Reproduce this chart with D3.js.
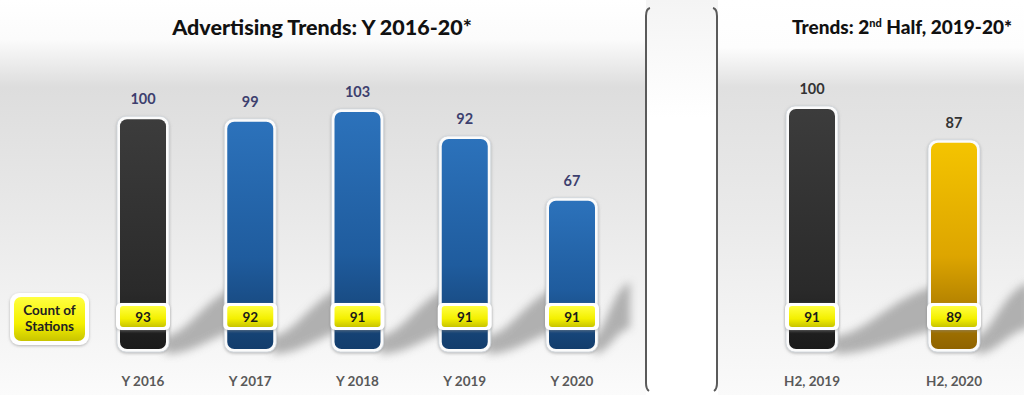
<!DOCTYPE html>
<html><head><meta charset="utf-8">
<script src="https://cdn.jsdelivr.net/npm/d3@7"></script>
<style>body{margin:0;background:#fff;}svg{display:block;}</style>
</head><body>
<svg id="c" width="1024" height="395"></svg>
<script>
// ---- data ----
const leftCategories = ["Y 2016","Y 2017","Y 2018","Y 2019","Y 2020"];
const leftValues = [100, 99, 103, 92, 67];
const leftStations = [93, 92, 91, 91, 91];
const rightCategories = ["H2, 2019","H2, 2020"];
const rightValues = [100, 87];
const rightStations = [91, 89];
const leftTitle = "Advertising Trends: Y 2016-20*";
const legendLines = ["Count of","Stations"];

const svg = d3.select("#c");
const defs = svg.append("defs");
const FONT = "Lato, 'Open Sans', sans-serif";

function lin(id, stops, vertical=true){
  const g = defs.append("linearGradient").attr("id", id)
    .attr("x1",0).attr("y1",0).attr("x2",vertical?0:1).attr("y2",vertical?1:0);
  stops.forEach(s=>g.append("stop").attr("offset",s[0]).attr("stop-color",s[1]));
}
lin("bgL",[[0,"#ffffff"],[0.1,"#fbfbfb"],[0.22,"#dddddd"],[0.55,"#e9e9e9"],[1,"#fbfbfb"]]);
lin("bgR",[[0,"#ffffff"],[0.12,"#fdfdfd"],[0.22,"#e0e0e0"],[0.55,"#eaeaea"],[1,"#fafafa"]]);
lin("bgM",[[0,"#f4f4f4"],[0.3,"#ffffff"],[1,"#ffffff"]]);
lin("gBlack",[[0,"#3c3c3c"],[0.75,"#2a2a2a"],[1,"#1a1a1a"]]);
lin("gBlue",[[0,"#2c72bb"],[0.6,"#1f5c9e"],[1,"#133d6c"]]);
lin("gGold",[[0,"#f4c400"],[0.55,"#dda500"],[1,"#8f6300"]]);
lin("gYel",[[0,"#ffff40"],[0.6,"#f4f000"],[1,"#c8c400"]]);
const blur = defs.append("filter").attr("id","blur").attr("x","-20%").attr("y","-40%").attr("width","140%").attr("height","180%");
blur.append("feGaussianBlur").attr("stdDeviation",4.5);
const glow = defs.append("filter").attr("id","glow").attr("x","-30%").attr("y","-30%").attr("width","160%").attr("height","160%");
glow.append("feDropShadow").attr("dx",0).attr("dy",1).attr("stdDeviation",1.5).attr("flood-color","#888").attr("flood-opacity",0.6);

// ---- backgrounds ----
svg.append("rect").attr("x",0).attr("y",0).attr("width",646).attr("height",395).attr("fill","url(#bgL)");
svg.append("rect").attr("x",646).attr("y",0).attr("width",72).attr("height",395).attr("fill","url(#bgM)");
svg.append("rect").attr("x",718).attr("y",0).attr("width",306).attr("height",395).attr("fill","url(#bgR)");
[646,717].forEach((x,i)=>{
  const d = i===0 ? 1 : -1;
  svg.append("path")
    .attr("d",`M${x+4*d},8 Q${x},9 ${x},16 L${x},383 Q${x},389 ${x+3*d},391`)
    .attr("fill","none").attr("stroke","#5a5a5a").attr("stroke-width",2);
});

// ---- scales ----
const BAR_W = 52, BASE = 352, BADGE_Y = 303, BADGE_H = 27;
const xL = d3.scalePoint().domain(leftCategories).range([143,572]);
const yL = d3.scaleLinear().domain([0,100]).range([363,116.3]);
const xR = d3.scalePoint().domain(rightCategories).range([812,954]);
const yR = d3.scaleLinear().domain([0,100]).range([366,106]);

function panel(cats, vals, stations, x, y, fills, labelColor, shadowEnd){
  const g = svg.append("g");
  // shadows
  g.selectAll("path.sh").data(cats).join("path").attr("class","sh")
    .attr("d",(c,i)=>{
      const xr = x(c)+BAR_W/2-4;
      const xe = i<cats.length-1 ? x(cats[i+1]) : shadowEnd;
      const w = xe - xr;
      return `M${xr},${BASE-16} C${xr+w*0.3},${BASE-18} ${xr+w*0.5},${BASE-62} ${xe},${BASE-70} L${xe},${BASE-24} C${xr+w*0.6},${BASE-22} ${xr+w*0.4},${BASE+2} ${xr},${BASE+2} Z`;
    })
    .attr("fill","#9a9a9a").attr("opacity",0.75).attr("filter","url(#blur)");
  // bar outer (white rim)
  g.selectAll("rect.rim").data(cats).join("rect").attr("class","rim")
    .attr("x",c=>x(c)-BAR_W/2).attr("width",BAR_W)
    .attr("y",(c,i)=>y(vals[i])).attr("height",(c,i)=>BASE-y(vals[i]))
    .attr("rx",9).attr("fill","#fbfbfb").attr("stroke","#cfd6dc").attr("stroke-width",0.8)
    .attr("filter","url(#glow)");
  g.selectAll("rect.bar").data(cats).join("rect").attr("class","bar")
    .attr("x",c=>x(c)-BAR_W/2+3).attr("width",BAR_W-6)
    .attr("y",(c,i)=>y(vals[i])+3).attr("height",(c,i)=>BASE-y(vals[i])-6)
    .attr("rx",7).attr("fill",(c,i)=>fills[i]);
  // value labels
  g.selectAll("text.val").data(cats).join("text").attr("class","val")
    .attr("x",c=>x(c)).attr("y",(c,i)=>y(vals[i])-12)
    .attr("text-anchor","middle").attr("font-family",FONT).attr("font-weight","bold")
    .attr("font-size",14.5).attr("fill",labelColor).text((c,i)=>vals[i]);
  // station badges
  g.selectAll("rect.bw").data(cats).join("rect").attr("class","bw")
    .attr("x",c=>x(c)-BAR_W/2-1).attr("width",BAR_W+2)
    .attr("y",BADGE_Y).attr("height",BADGE_H).attr("rx",5)
    .attr("fill","#ffffff").attr("filter","url(#glow)");
  g.selectAll("rect.by").data(cats).join("rect").attr("class","by")
    .attr("x",c=>x(c)-BAR_W/2+3).attr("width",BAR_W-6)
    .attr("y",BADGE_Y+3).attr("height",BADGE_H-6).attr("rx",3)
    .attr("fill","url(#gYel)");
  g.selectAll("text.st").data(cats).join("text").attr("class","st")
    .attr("x",c=>x(c)).attr("y",BADGE_Y+BADGE_H/2+5)
    .attr("text-anchor","middle").attr("font-family",FONT).attr("font-weight","bold")
    .attr("font-size",13.5).attr("fill","#1a1a1a").text((c,i)=>stations[i]);
  // category labels
  g.selectAll("text.cat").data(cats).join("text").attr("class","cat")
    .attr("x",c=>x(c)).attr("y",386)
    .attr("text-anchor","middle").attr("font-family",FONT).attr("font-weight","bold")
    .attr("font-size",13.5).attr("fill","#595959").text(c=>c);
}

panel(leftCategories, leftValues, leftStations, xL, yL,
  ["url(#gBlack)","url(#gBlue)","url(#gBlue)","url(#gBlue)","url(#gBlue)"], "#3d3f6e", 630);
panel(rightCategories, rightValues, rightStations, xR, yR,
  ["url(#gBlack)","url(#gGold)"], "#333333", 1030);

// ---- legend box ----
svg.append("rect").attr("x",10).attr("y",293).attr("width",79).attr("height",52).attr("rx",9)
  .attr("fill","#ffffff").attr("filter","url(#glow)");
svg.append("rect").attr("x",14).attr("y",297).attr("width",71).attr("height",44).attr("rx",7)
  .attr("fill","url(#gYel)");
svg.append("text").attr("x",49.5).attr("y",315).attr("text-anchor","middle")
  .attr("font-family",FONT).attr("font-weight","bold").attr("font-size",13.5).attr("fill","#222")
  .selectAll("tspan").data(legendLines).join("tspan")
  .attr("x",49.5).attr("dy",(d,i)=>i===0?0:16).text(d=>d);

// ---- titles ----
svg.append("text").attr("x",322).attr("y",35).attr("text-anchor","middle")
  .attr("font-family",FONT).attr("font-weight","900").attr("font-size",21.5).attr("fill","#111")
  .text(leftTitle);
const t2 = svg.append("text").attr("x",1012).attr("y",34).attr("text-anchor","end")
  .attr("font-family",FONT).attr("font-weight","900").attr("font-size",19).attr("fill","#111");
t2.append("tspan").text("Trends: 2");
t2.append("tspan").attr("font-size",11).attr("dy",-7).text("nd");
t2.append("tspan").attr("dy",7).text(" Half, 2019-20*");
</script>
</body></html>
